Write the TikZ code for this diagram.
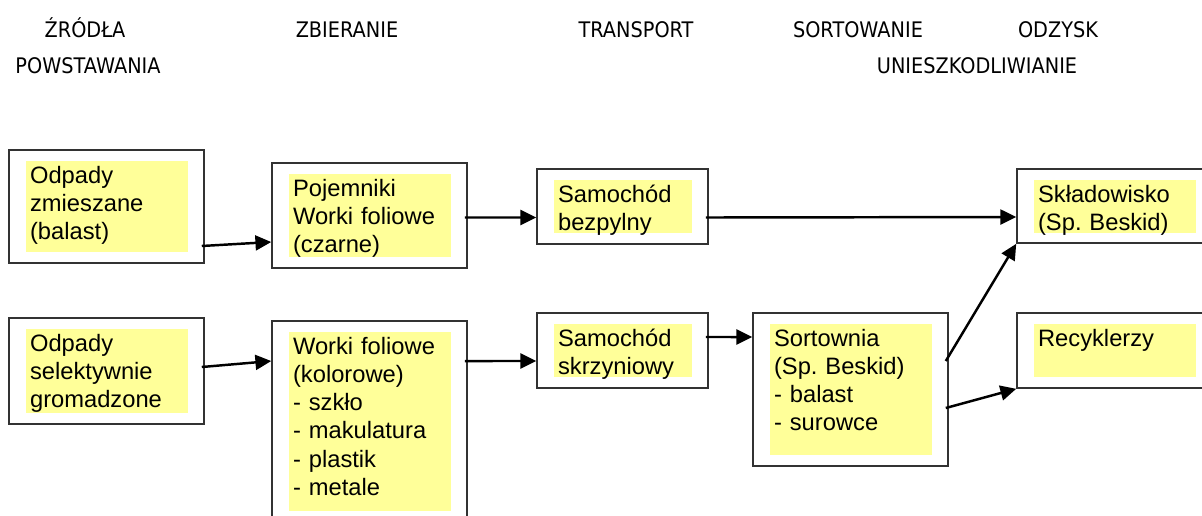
\documentclass[tikz,border=0pt]{standalone}
\usepackage{fontspec}
\usetikzlibrary{arrows.meta}
\newfontfamily\lblfont{Liberation Sans}
\newfontfamily\hdrfont[FakeStretch=0.9]{DejaVu Sans}
\definecolor{yellowfill}{RGB}{255,255,153}
\definecolor{boxline}{RGB}{50,50,50}

\begin{document}
\begin{tikzpicture}[x=0.02cm, y=-0.02cm,
    hdr/.style={anchor=base, inner sep=0pt, font=\hdrfont\fontsize{12.2}{14}\selectfont},
    stagebox/.style={rectangle, draw=boxline, line width=0.9pt, fill=white, inner sep=0pt, minimum width=3.9cm},
    lbl/.style={rectangle, fill=yellowfill, anchor=north west, align=left, text width=3.06cm,
        inner xsep=0.09cm, inner ysep=0pt, text height=0.46cm, font=\lblfont\fontsize{13.5}{16}\selectfont\frenchspacing},
    arr/.style={-{Triangle[length=9pt,width=8.5pt]}, line width=1.4pt}]
    \clip (0,0) rectangle (1202,515);

    % Stage headings
    \node [hdr] (zrodla) at (85,37) {ŹRÓDŁA};
    \node [hdr] (powst) at (88,73) {POWSTAWANIA};
    \node [hdr] (zbier) at (347,37) {ZBIERANIE};
    \node [hdr] (transp) at (636,37) {TRANSPORT};
    \node [hdr] (sort) at (858,37) {SORTOWANIE};
    \node [hdr] (odzysk) at (1058,37) {ODZYSK};
    \node [hdr] (uniesz) at (977,73) {UNIESZKODLIWIANIE};

    % Sources
    \node [stagebox, minimum height=2.26cm] (zmiesz) at (106.5,206.5) {};
    \node [lbl, text depth=1.36cm] (zmieszT) at ([xshift=0.34cm,yshift=-0.22cm]zmiesz.north west) {Odpady\\zmieszane\\(balast)};
    \node [stagebox, minimum height=2.12cm] (selekt) at (106.5,371) {};
    \node [lbl, text depth=1.22cm] (selektT) at ([xshift=0.34cm,yshift=-0.22cm]selekt.north west) {Odpady\\selektywnie\\gromadzone};

    % Collection
    \node [stagebox, minimum height=2.10cm] (pojem) at (369.5,215.5) {};
    \node [lbl, text depth=1.20cm] (pojemT) at ([xshift=0.34cm,yshift=-0.22cm]pojem.north west) {Pojemniki\\Worki foliowe\\(czarne)};
    \node [stagebox, minimum height=4.02cm] (kolor) at (369.5,421.5) {};
    \node [lbl, text depth=3.12cm] (kolorT) at ([xshift=0.34cm,yshift=-0.22cm]kolor.north west) {Worki foliowe\\(kolorowe)\\- szkło\\- makulatura\\- plastik\\- metale};

    % Transport
    \node [stagebox, minimum width=3.42cm, minimum height=1.50cm] (bezpyl) at (622.5,206.5) {};
    \node [lbl, text width=2.58cm, text depth=0.60cm] (bezpylT) at ([xshift=0.34cm,yshift=-0.22cm]bezpyl.north west) {Samochód\\bezpylny};
    \node [stagebox, minimum width=3.42cm, minimum height=1.50cm] (skrzyn) at (622.5,350.5) {};
    \node [lbl, text width=2.58cm, text depth=0.60cm] (skrzynT) at ([xshift=0.34cm,yshift=-0.22cm]skrzyn.north west) {Samochód\\skrzyniowy};

    % Sorting
    \node [stagebox, minimum height=3.06cm] (sortow) at (850.5,389.5) {};
    \node [lbl, text depth=2.16cm] (sortowT) at ([xshift=0.34cm,yshift=-0.22cm]sortow.north west) {Sortownia\\(Sp. Beskid)\\- balast\\- surowce};

    % Recovery / disposal
    \node [stagebox, minimum height=1.48cm] (sklad) at (1114.5,206) {};
    \node [lbl, text depth=0.60cm] (skladT) at ([xshift=0.34cm,yshift=-0.22cm]sklad.north west) {Składowisko\\(Sp. Beskid)};
    \node [stagebox, minimum height=1.50cm] (recykl) at (1114.5,350.5) {};
    \node [lbl, text depth=0.60cm] (recyklT) at ([xshift=0.34cm,yshift=-0.22cm]recykl.north west) {Recyklerzy};

    % Arrows
    \draw [arr] ([xshift=-0.06cm,yshift=-0.79cm]zmiesz.east) -- ([yshift=-0.53cm]pojem.west);
    \draw [arr] ([xshift=-0.06cm,yshift=-0.04cm]pojem.east) -- ([yshift=-0.22cm]bezpyl.west);
    \draw [arr] ([xshift=-0.06cm,yshift=-0.22cm]bezpyl.east) -- ([yshift=-0.22cm]sklad.west);
    \draw [arr] ([xshift=-0.06cm,yshift=0.08cm]selekt.east) -- ([yshift=1.21cm]kolor.west);
    \draw [arr] ([xshift=-0.06cm,yshift=1.21cm]kolor.east) -- ([yshift=-0.21cm]skrzyn.west);
    \draw [arr] ([xshift=-0.06cm,yshift=0.27cm]skrzyn.east) -- ([yshift=1.05cm]sortow.west);
    \draw [arr] ([xshift=-0.06cm,yshift=0.57cm]sortow.east) -- (sklad.south west);
    \draw [arr] ([xshift=-0.06cm,yshift=-0.37cm]sortow.east) -- (recykl.south west);
\end{tikzpicture}
\end{document}
